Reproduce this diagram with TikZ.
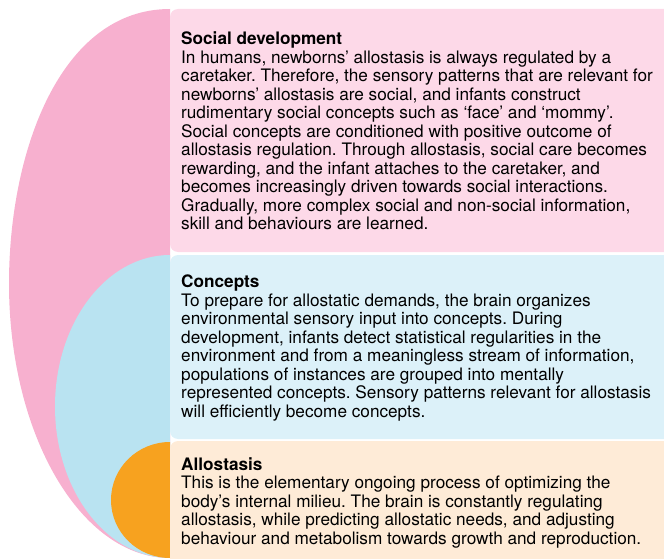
\documentclass[tikz,border=0pt]{standalone}
\usepackage{fontspec}
\setmainfont{TeX Gyre Heros}
\frenchspacing
\definecolor{socialdark}{HTML}{F7B0CF}
\definecolor{sociallight}{HTML}{FDD9E8}
\definecolor{conceptdark}{HTML}{B9E3F1}
\definecolor{conceptlight}{HTML}{DCF1F9}
\definecolor{allodark}{HTML}{F7A21F}
\definecolor{allolight}{HTML}{FEEBD7}
\tikzset{
  boxtext/.style={anchor=base west, inner sep=0pt, align=left, text=black},
}
\begin{document}
\begin{tikzpicture}[x=1pt, y=1pt, font=\fontsize{17.2}{18.5}\selectfont, line join=round]
	\useasboundingbox (0,0) rectangle (664,558);
	\clip (0,0) rectangle (664,558);
	% social development
	\fill[socialdark] (170,549) .. controls (60,549) and (9,406) .. (9,274.5)
		arc[start angle=180, end angle=270, x radius=161, y radius=274.5] -- cycle;
	\fill[sociallight, rounded corners=8pt] (170,306) rectangle (700,549);
	% concepts
	\fill[conceptdark] (170,303) arc[start angle=90, end angle=270, x radius=115, y radius=151.5] -- cycle;
	\fill[conceptlight, rounded corners=8pt] (170,119) rectangle (700,303);
	% allostasis
	\fill[allodark] (170,116) arc[start angle=90, end angle=270, x radius=59, y radius=58] -- cycle;
	\fill[allolight, rounded corners=8pt] (170,-20) rectangle (700,117);
	% texts (base = last line)
	\node[boxtext] (social) at (181,328.5) {\textbf{Social development}\\
		In humans, newborns’ allostasis is always regulated by a\\
		caretaker. Therefore, the sensory patterns that are relevant for\\
		newborns’ allostasis are social, and infants construct\\
		rudimentary social concepts such as ‘face’ and ‘mommy’.\\
		Social concepts are conditioned with positive outcome of\\
		allostasis regulation. Through allostasis, social care becomes\\
		rewarding, and the infant attaches to the caretaker, and\\
		becomes increasingly driven towards social interactions.\\
		Gradually, more complex social and non-social information,\\
		skill and behaviours are learned.};
	\node[boxtext] (concepts) at (181,141) {\textbf{Concepts}\\
		To prepare for allostatic demands, the brain organizes\\
		environmental sensory input into concepts. During\\
		development, infants detect statistical regularities in the\\
		environment and from a meaningless stream of information,\\
		populations of instances are grouped into mentally\\
		represented concepts. Sensory patterns relevant for allostasis\\
		will efficiently become concepts.};
	\node[boxtext] (allostasis) at (181,14) {\textbf{Allostasis}\\
		This is the elementary ongoing process of optimizing the\\
		body’s internal milieu. The brain is constantly regulating\\
		allostasis, while predicting allostatic needs, and adjusting\\
		behaviour and metabolism towards growth and reproduction.};
\end{tikzpicture}
\end{document}
